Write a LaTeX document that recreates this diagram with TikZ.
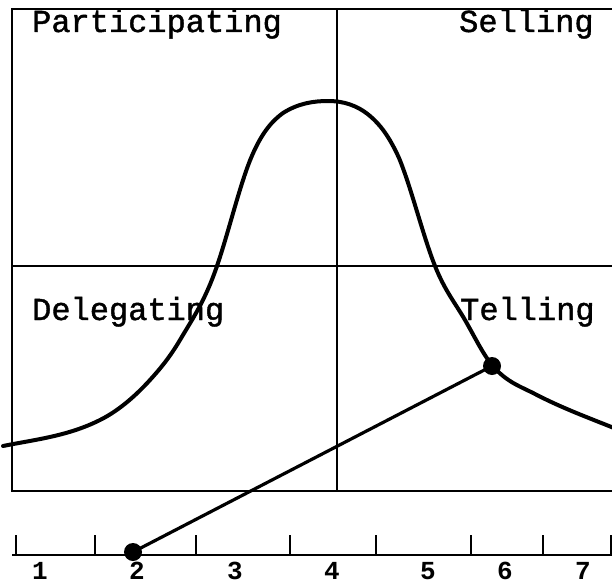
\documentclass[tikz,border=0pt]{standalone}
\usepackage{fontspec}
\setmonofont{Liberation Mono}
\newfontfamily\quadfont[FakeBold=1.3]{Liberation Mono}
\begin{document}
\begin{tikzpicture}[x=1pt,y=-1pt,
  frame/.style={line width=1.8pt,black},
  curve/.style={line width=4pt,black,line cap=round,line join=round},
  link/.style={line width=3.2pt,black},
  dot/.style={circle,fill=black,inner sep=0pt,minimum size=18pt},
  quad/.style={anchor=base west,inner sep=0pt,font=\quadfont\fontsize{32}{36}\selectfont},
  num/.style={anchor=base,inner sep=0pt,font=\ttfamily\bfseries\fontsize{26}{28}\selectfont},
  tick/.style={line width=1.5pt}]
\useasboundingbox (0,0) rectangle (612,583);
% frame
\coordinate (tl) at (12,9);
\coordinate (tr) at (614,9);
\coordinate (ml) at (12,266);
\coordinate (mr) at (614,266);
\coordinate (bl) at (12,491);
\coordinate (br) at (614,491);
\coordinate (vt) at (337,9);
\coordinate (vb) at (337,491);
\draw[frame] (tr) -- (tl) -- (bl) -- (br);
\draw[frame] (ml) -- (mr);
\draw[frame] (vt) -- (vb);
% labels
\node[quad] (part) at (32,32) {Participating};
\node[quad] (sell) at (459,32) {Selling};
\node[quad] (dele) at (32,320) {Delegating};
\node[quad] (tell) at (460,320) {Telling};
% curve
\draw[curve] (3,446)
  .. controls (35.3,439.5) and (67.7,436.2) .. (100,420)
  .. controls (116.7,411.7) and (133.3,398.3) .. (150,380)
  .. controls (160,369) and (170,357) .. (180,340)
  .. controls (192.3,319) and (204.7,301.8) .. (217,266)
  .. controls (228.3,233.1) and (239.7,185.2) .. (251,158)
  .. controls (261.7,132.4) and (272.3,120.8) .. (283,113)
  .. controls (298,103.5) and (313,101) .. (328,101)
  .. controls (343,101) and (357,105) .. (370,116)
  .. controls (380,124.5) and (389,136) .. (399,158)
  .. controls (411,186.8) and (423,236) .. (435,266)
  .. controls (445,291) and (455,302.7) .. (465,320)
  .. controls (474,335.6) and (483,354.2) .. (492,365)
  .. controls (506.3,382.2) and (520.7,386.5) .. (535,394)
  .. controls (561.3,407.7) and (587.7,417.5) .. (614,428);
% axis
\coordinate (a0) at (12,555);
\coordinate (a1) at (614,555);
\draw[line width=1.6pt] (a0) -- (a1);
\foreach \x in {16,95,196,290,376,471,543,611}
  \draw[tick] (\x,555) -- (\x,535);
\foreach \x/\t in {40/1,137/2,235/3,332/4,428/5,505/6,583/7}
  \node[num] at (\x,579) {\t};
% points and connector
\node[dot] (p1) at (133,552) {};
\node[dot] (p2) at (492,366) {};
\draw[link] (p1.center) -- (p2.center);
\end{tikzpicture}
\end{document}
